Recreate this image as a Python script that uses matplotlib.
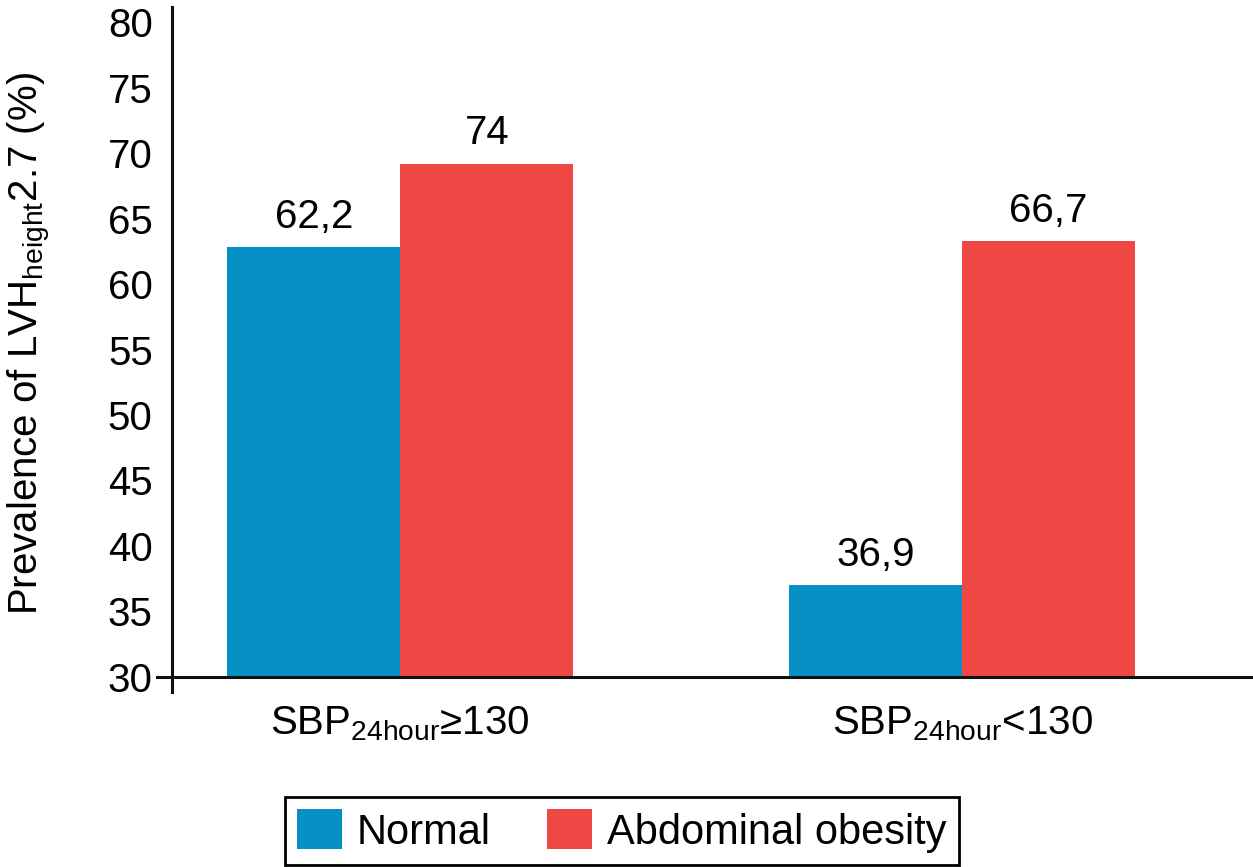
import numpy as np
import matplotlib
matplotlib.use("Agg")
import matplotlib.pyplot as plt

plt.rcParams['font.family'] = ['Liberation Sans', 'DejaVu Sans']
plt.rcParams['mathtext.fontset'] = 'custom'
plt.rcParams['mathtext.rm'] = 'Liberation Sans'

# data
groups = ['SBP$_{\\mathregular{24hour}}$≥130', 'SBP$_{\\mathregular{24hour}}$<130']
series = ['Normal', 'Abdominal obesity']
# bar heights as drawn in the picture
normal_h = [62.8, 37.0]
obesity_h = [69.2, 63.3]
# printed value labels
normal_lab = [62.2, 36.9]
obesity_lab = [74, 66.7]
yticks = [30, 35, 40, 45, 50, 55, 60, 65, 70, 75, 80]

blue = '#0790C5'
red = '#EF4844'

fig = plt.figure(figsize=(12.53, 8.67), dpi=100)
ax = fig.add_axes([157 / 1253, 1 - 692 / 867, 1 - 157 / 1253, (692 - 7) / 867])

x = np.arange(len(groups))
w = 0.308
b1 = ax.bar(x - w / 2, np.array(normal_h) - 30, w, bottom=30, color=blue, label=series[0])
b2 = ax.bar(x + w / 2, np.array(obesity_h) - 30, w, bottom=30, color=red, label=series[1])

def fmt(v):
    return f"{v:g}".replace('.', ',')

for bars, labs in [(b1, normal_lab), (b2, obesity_lab)]:
    for r, v in zip(bars, labs):
        ax.annotate(fmt(v), (r.get_x() + r.get_width() / 2, r.get_y() + r.get_height()),
                    xytext=(0, 8), textcoords='offset points', ha='center', va='bottom',
                    fontsize=29)

ax.set_xlim(-0.433, 1.518)
ax.set_ylim(28.85, 81.15)
ax.spines['top'].set_visible(False)
ax.spines['right'].set_visible(False)
ax.spines['left'].set_position(('data', -0.406))
ax.spines['bottom'].set_position(('data', 30))
ax.spines['left'].set_linewidth(2.2)
ax.spines['bottom'].set_linewidth(2.2)
ax.spines['left'].set_color('#111111')
ax.spines['bottom'].set_color('#111111')

ax.set_yticks(yticks)
ax.set_yticklabels([str(t) for t in yticks])
ax.tick_params(axis='y', length=0, pad=14, labelsize=29)
ax.set_xticks(x)
ax.set_xticklabels(groups)
ax.tick_params(axis='x', length=0, pad=20, labelsize=29)

fig.text(6 / 1253, 1 - 343 / 867, 'Prevalence of LVH$_{\\mathregular{height}}$2.7 (%)',
         rotation=90, ha='left', va='center', fontsize=29)

leg = fig.legend(handles=[b1, b2], labels=series, loc='center', bbox_to_anchor=(0.4964, 0.0415),
                 ncol=2, fontsize=30, fancybox=False, edgecolor='black', framealpha=1,
                 handlelength=1.08, handleheight=1.1, handletextpad=0.36, columnspacing=1.35,
                 borderpad=0.3, borderaxespad=0)
leg.get_frame().set_linewidth(2)

fig.savefig('out.png', dpi=100)
